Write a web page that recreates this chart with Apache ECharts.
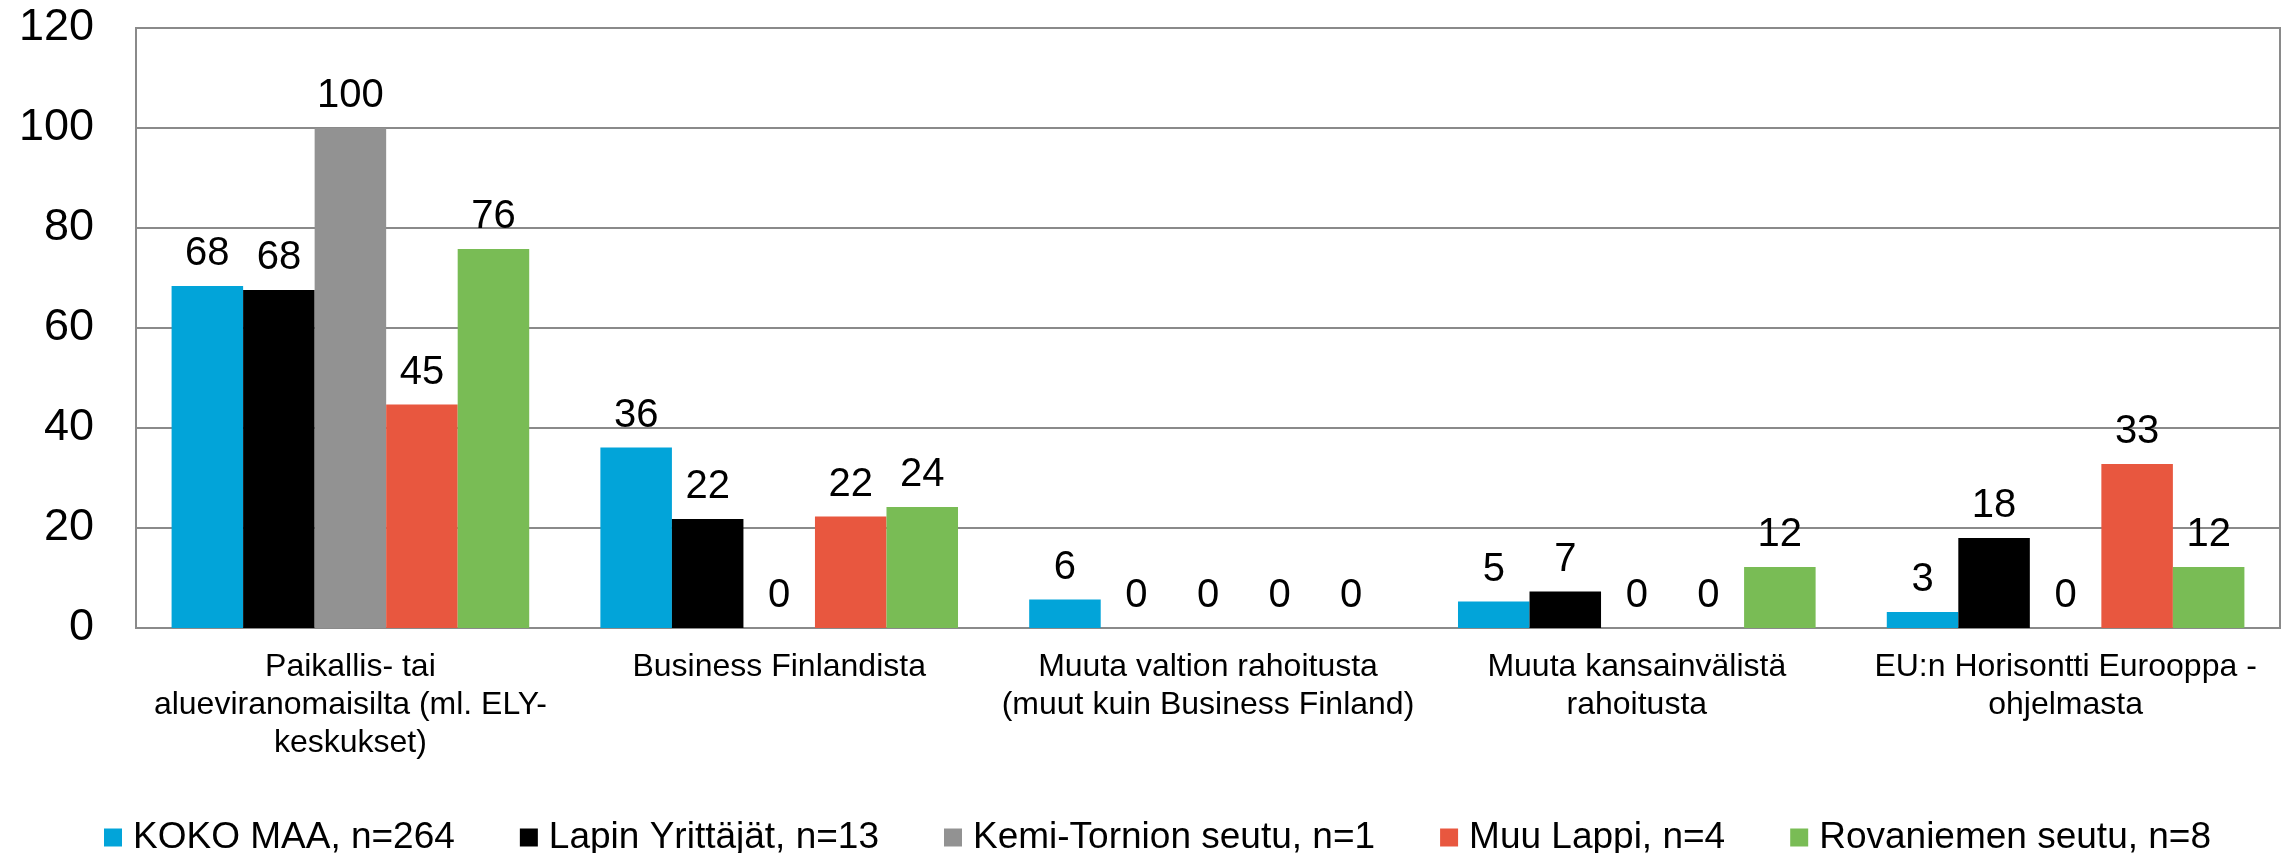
<!DOCTYPE html>
<html>
<head>
<meta charset="utf-8">
<title>Rahoitus</title>
<script src="https://cdn.jsdelivr.net/npm/echarts@6/dist/echarts.min.js"></script>
<style>
  html, body { margin: 0; padding: 0; background: #fff; }
  #chart { width: 2285px; height: 853px; }
</style>
</head>
<body>
<div id="chart"></div>
<script>
// categories (line breaks as in the original chart)
var categories = [
  'Paikallis- tai\nalueviranomaisilta (ml. ELY-\nkeskukset)',
  'Business Finlandista',
  'Muuta valtion rahoitusta\n(muut kuin Business Finland)',
  'Muuta kansainvälistä\nrahoitusta',
  'EU:n Horisontti Eurooppa -\nohjelmasta'
]

var seriesNames = [
  'KOKO MAA, n=264',
  'Lapin Yrittäjät, n=13',
  'Kemi-Tornion seutu, n=1',
  'Muu Lappi, n=4',
  'Rovaniemen seutu, n=8'
]

// values (labels are shown rounded)
var kokoMaa = [68.4, 36.1, 5.7, 5.3, 3.2]
var lapinYrittajat = [67.6, 21.8, 0, 7.3, 18.0]
var kemiTornio = [100, 0, 0, 0, 0]
var muuLappi = [44.7, 22.3, 0, 0, 32.8]
var rovaniemi = [75.8, 24.2, 0, 12.2, 12.2]

var colors = ['#02A4D9', '#000000', '#929292', '#E8573F', '#79BC55']
var yTicks = { min: 0, max: 120, interval: 20 }

var font = '"Liberation Sans", Arial, sans-serif'

var allValues = [kokoMaa, lapinYrittajat, kemiTornio, muuLappi, rovaniemi]

var series = allValues.map(function (vals, i) {
  return {
    name: seriesNames[i],
    type: 'bar',
    data: vals,
    barGap: '0%',
    barCategoryGap: '16.6%',
    itemStyle: { color: colors[i] },
    label: {
      show: true,
      position: 'top',
      distance: 12,
      fontFamily: font,
      fontSize: 40,
      color: '#000',
      formatter: function (p) { return Math.round(p.value) }
    }
  }
})

var chart = echarts.init(document.getElementById('chart'))
chart.setOption({
  animation: false,
  backgroundColor: '#fff',
  color: colors,
  grid: {
    left: 136,
    right: 5,
    top: 28,
    bottom: 225,
    show: true,
    borderColor: '#8a8a8a',
    borderWidth: 2
  },
  legend: {
    data: seriesNames,
    left: 99,
    top: 814,
    icon: 'rect',
    itemWidth: 18,
    itemHeight: 18,
    itemGap: 65,
    textStyle: {
      fontFamily: font,
      fontSize: 37,
      color: '#000',
      padding: [0, 0, 0, 6]
    }
  },
  xAxis: {
    type: 'category',
    data: categories,
    axisTick: { show: false },
    axisLine: { lineStyle: { color: '#8a8a8a', width: 2 } },
    axisLabel: {
      interval: 0,
      margin: 20,
      fontFamily: font,
      fontSize: 32,
      lineHeight: 38,
      color: '#000'
    }
  },
  yAxis: {
    type: 'value',
    min: yTicks.min,
    max: yTicks.max,
    interval: yTicks.interval,
    axisLine: { show: false },
    axisTick: { show: false },
    splitLine: { lineStyle: { color: '#8a8a8a', width: 2 } },
    axisLabel: {
      margin: 42,
      fontFamily: font,
      fontSize: 45,
      color: '#000'
    }
  },
  series: series
})
</script>
</body>
</html>
